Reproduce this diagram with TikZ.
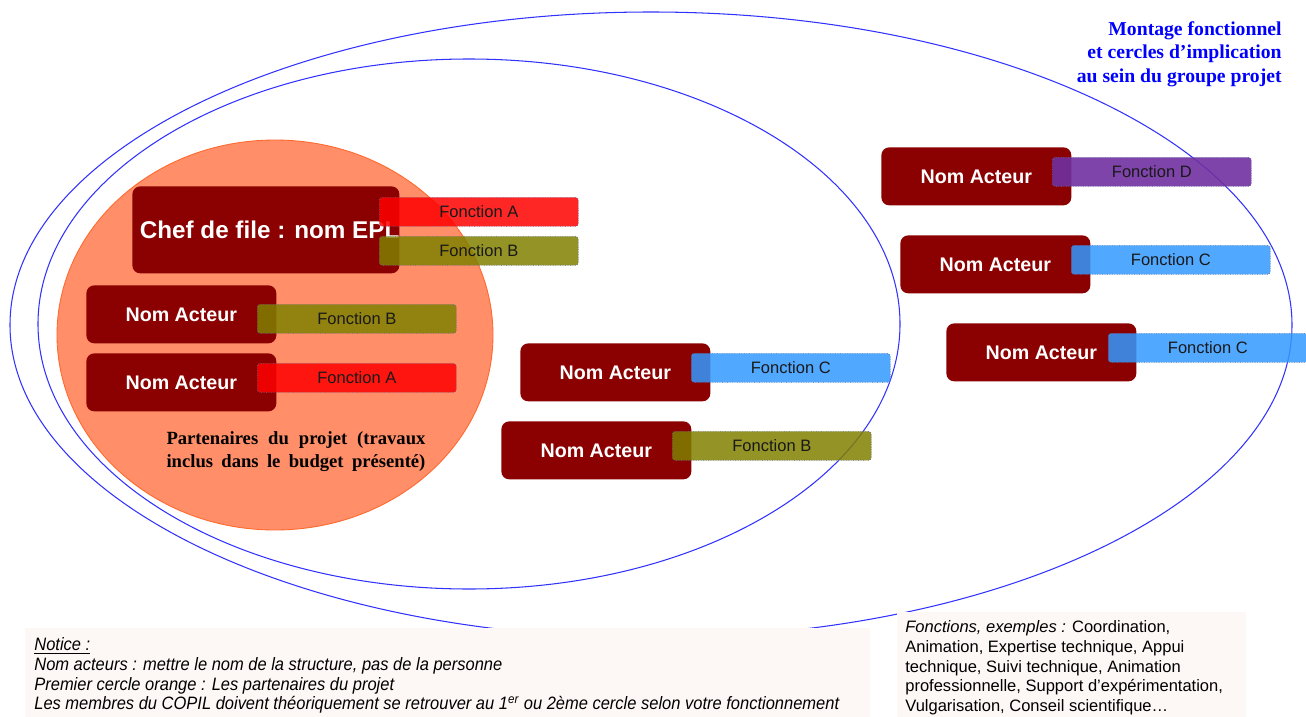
\documentclass[tikz,border=0pt]{standalone}
\usepackage{fontspec}
\setmainfont{Liberation Sans}
\newfontfamily\timesfont{Liberation Serif}
\newfontfamily\narrowfont[FakeStretch=0.92]{Liberation Sans}

\definecolor{actorred}{RGB}{139,0,0}
\definecolor{ringblue}{RGB}{50,50,255}
\definecolor{orangefill}{RGB}{255,142,105}
\definecolor{orangeline}{RGB}{255,105,45}
\definecolor{fonca}{RGB}{255,0,0}
\definecolor{foncb}{RGB}{128,128,0}
\definecolor{foncc}{RGB}{51,153,255}
\definecolor{foncd}{RGB}{112,48,160}
\definecolor{fonclinecolor}{RGB}{95,115,160}
\definecolor{noticefill}{RGB}{253,247,246}

\tikzset{
  actor/.style={fill=actorred, rounded corners=4.5pt, anchor=north west,
    minimum width=3.8cm, minimum height=1.16cm, text=white,
    font=\fontsize{11.2}{13}\selectfont\bfseries, inner sep=0pt},
  fonction/.style={rounded corners=1.6pt, anchor=north west,
    minimum width=3.98cm, minimum height=0.58cm, inner sep=0pt,
    draw=fonclinecolor, densely dotted, line width=0.4pt,
    fill opacity=0.85, text opacity=1, text=black!90,
    font=\fontsize{9.4}{11}\selectfont},
  notice/.style={fill=noticefill, anchor=north west, inner sep=0pt}
}

\begin{document}
\begin{tikzpicture}[x=0.02cm, y=-0.02cm]
    \useasboundingbox (0,0) rectangle (1306,717);
    % Cercles d'implication
    \draw[ringblue, line width=0.6pt] (651,325) ellipse [x radius=641, y radius=313];
    \draw[ringblue, line width=0.6pt] (469,324) ellipse [x radius=431, y radius=265];
    \draw[fill=orangefill, draw=orangeline, line width=0.5pt] (275,335) ellipse [x radius=218, y radius=195];

    % Titre
    \node[anchor=north east, align=right, text=blue, inner sep=0pt,
      font=\timesfont\fontsize{11.2}{13.4}\selectfont\bfseries] (titre) at (1282,21)
      {Montage fonctionnel\\ et cercles d’implication\\ au sein du groupe projet};

    % Partenaires du projet
    \node[actor, minimum width=5.32cm, minimum height=1.74cm,
      font=\fontsize{13.8}{16}\selectfont\bfseries] (chef) at (132,186) {\hspace*{0.15cm}Chef de file : nom EPL};
    \node[fonction, fill=fonca] (chefA) at (379,197) {Fonction A};
    \node[fonction, fill=foncb] (chefB) at (379,236) {Fonction B};

    \node[actor] (p1) at (86,285) {Nom Acteur};
    \node[fonction, fill=foncb] (p1B) at (257,304) {Fonction B};
    \node[actor] (p2) at (86,353) {Nom Acteur};
    \node[fonction, fill=fonca] (p2A) at (257,363) {Fonction A};

    \node[align=center, font=\timesfont\fontsize{10.6}{13}\selectfont\bfseries] (partenaires) at (296,452)
      {\makebox[5.18cm][s]{Partenaires du projet (travaux}\\ \makebox[5.18cm][s]{inclus dans le budget pr\'esent\'e)}};

    % Second cercle
    \node[actor] (s1) at (520,343) {Nom Acteur};
    \node[fonction, fill=foncc] (s1C) at (691,353) {Fonction C};
    \node[actor] (s2) at (501,421) {Nom Acteur};
    \node[fonction, fill=foncb] (s2B) at (672,431) {Fonction B};

    % Troisieme cercle
    \node[actor] (t1) at (881,147) {Nom Acteur};
    \node[fonction, fill=foncd, fill opacity=0.9] (t1D) at (1052,157) {Fonction D};
    \node[actor] (t2) at (900,235) {Nom Acteur};
    \node[fonction, fill=foncc] (t2C) at (1071,245) {Fonction C};
    \node[actor] (t3) at (946,323) {Nom Acteur};
    \node[fonction, fill=foncc] (t3C) at (1108,333) {Fonction C};

    % Encadres du bas
    \node[notice, minimum width=16.9cm, minimum height=1.78cm] (noticebox) at (25,628) {};
    \node[anchor=north west, align=left, inner sep=0pt,
      font=\narrowfont\itshape\fontsize{10.2}{11.3}\selectfont] (noticetext) at (34,637)
      {\underline{Notice :}\\
       Nom acteurs : mettre le nom de la structure, pas de la personne\\
       Premier cercle orange : Les partenaires\ du projet\\
       Les membres du COPIL doivent th\'eoriquement\ se retrouver\ au 1\textsuperscript{er} ou 2\`eme cercle selon votre\ fonctionnement};

    \node[notice, minimum width=6.98cm, minimum height=2.1cm] (fonctionsbox) at (897,612) {};
    \node[anchor=north west, align=left, inner sep=0pt,
      font=\fontsize{9.4}{11.3}\selectfont] (fonctionstext) at (905,620)
      {\textit{Fonctions, exemples\ :} Coordination,\\
       Animation, Expertise technique, Appui\\
       technique, Suivi\ technique, Animation\\
       professionnelle,\ Support d’exp\'erimentation,\\
       Vulgarisation, Conseil\ scientifique\dots};
  \end{tikzpicture}
\end{document}
